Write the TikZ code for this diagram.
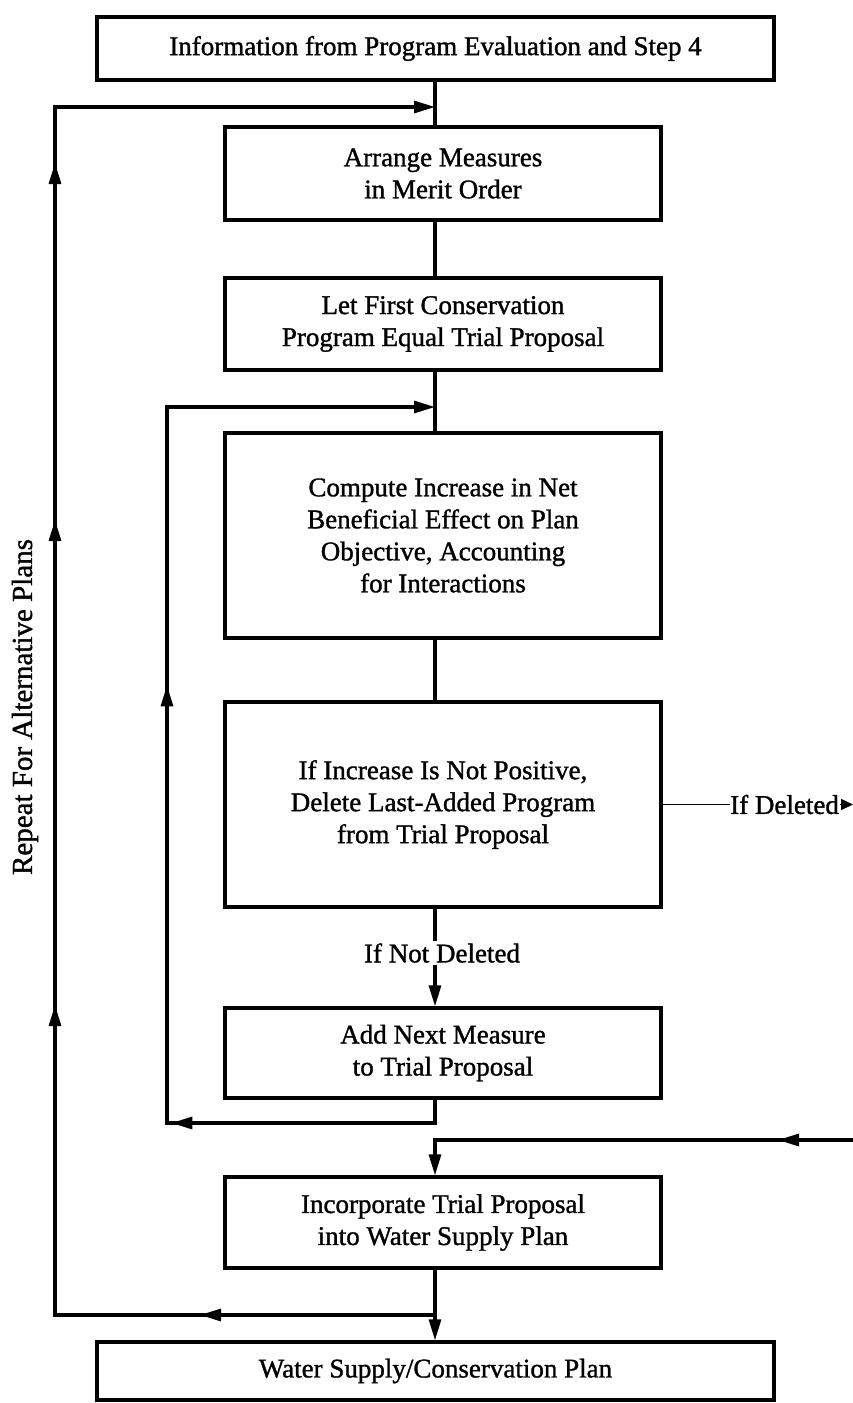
\documentclass[tikz,border=0pt]{standalone}
\usepackage{fontspec}
\setmainfont{Liberation Serif}[BoldFont=Liberation Serif, BoldFeatures={FakeBold=1.2}]
\usetikzlibrary{arrows.meta,decorations.markings}
\begin{document}
\begin{tikzpicture}[x=1pt,y=-1pt,
  box/.style={draw, line width=3.3pt, minimum width=436pt, inner sep=0pt, align=center, font=\fontsize{27}{32}\selectfont\bfseries},
  wire/.style={line width=3.1pt},
  tip/.style={-{Triangle[length=21pt,width=12pt]}},
  lbl/.style={font=\fontsize{27}{32}\selectfont\bfseries, inner sep=2pt}]
\useasboundingbox (0,0) rectangle (853,1403);

% boxes
\node[box, minimum width=677pt, minimum height=63pt] (top) at (435.5,48.5) {Information from Program Evaluation and Step 4};
\node[box, minimum height=93pt] (b2) at (443,173.5) {Arrange Measures\\in Merit Order};
\node[box, minimum height=92pt] (b3) at (443,324) {Let First Conservation\\Program Equal Trial Proposal};
\node[box, minimum height=205pt] (b4) at (443,535.5) {Compute Increase in Net\\Beneficial Effect on Plan\\Objective, Accounting\\for Interactions};
\node[box, minimum height=205pt] (b5) at (443,804.5) {If Increase Is Not Positive,\\Delete Last-Added Program\\from Trial Proposal};
\node[box, minimum height=90pt] (b6) at (443,1053) {Add Next Measure\\to Trial Proposal};
\node[box, minimum height=91pt] (b7) at (443,1222.5) {Incorporate Trial Proposal\\into Water Supply Plan};
\node[box, minimum width=677pt, minimum height=58pt] (bot) at (435.5,1371) {Water Supply/Conservation Plan};

% labels
\node[lbl] (nd) at (442,953) {If Not Deleted};
\node[lbl, anchor=west, inner sep=0pt] (id) at (730,804.5) {If Deleted};
\node[lbl, rotate=90, font=\fontsize{29}{34}\selectfont\bfseries] (rep) at (25,707) {Repeat For Alternative Plans};

% coordinates
\coordinate (cx) at (435,0);
\coordinate (oB) at (435,1315);
\coordinate (oL) at (55,1315);
\coordinate (oT) at (55,107);
\coordinate (oE) at (435,107);
\coordinate (iB) at (435,1123);
\coordinate (iL) at (167,1123);
\coordinate (iT) at (167,407);
\coordinate (iE) at (435,407);
\coordinate (rS) at (853,1140);
\coordinate (rC) at (435,1140);
\coordinate (ie) at (853,804.5);

% main column
\draw[wire] (top.south -| cx) -- (b2.north -| cx);
\draw[wire] (b2.south -| cx) -- (b3.north -| cx);
\draw[wire] (b3.south -| cx) -- (b4.north -| cx);
\draw[wire] (b4.south -| cx) -- (b5.north -| cx);
\draw[wire] (b5.south -| cx) -- (nd.north -| cx);
\draw[wire, tip] (nd.south -| cx) -- (b6.north -| cx);
\draw[wire, tip] (b7.south -| cx) -- (bot.north -| cx);

% inner loop
\draw[wire, tip, postaction={decorate}, decoration={markings,
    mark=at position 287pt with {\arrow{Triangle[length=21pt,width=12pt]}},
    mark=at position 729pt with {\arrow{Triangle[length=21pt,width=12pt]}}}]
  (b6.south -| cx) -- (iB) -- (iL) -- (iT) -- (iE);

% outer loop
\draw[wire, tip, postaction={decorate}, decoration={markings,
    mark=at position 235pt with {\arrow{Triangle[length=21pt,width=12pt]}},
    mark=at position 690pt with {\arrow{Triangle[length=21pt,width=12pt]}},
    mark=at position 1175pt with {\arrow{Triangle[length=21pt,width=12pt]}},
    mark=at position 1532pt with {\arrow{Triangle[length=21pt,width=12pt]}}}]
  (oB) -- (oL) -- (oT) -- (oE);

% if deleted
\draw[line width=1.6pt] (b5.east) -- (id.west);
\draw[line width=1.6pt, -{Triangle[length=12pt,width=11pt]}] ([xshift=1pt]id.east) -- (ie);
\draw[wire, tip, postaction={decorate}, decoration={markings,
    mark=at position 75pt with {\arrow{Triangle[length=21pt,width=12pt]}}}]
  (rS) -- (rC) -- (b7.north -| cx);
\end{tikzpicture}
\end{document}
